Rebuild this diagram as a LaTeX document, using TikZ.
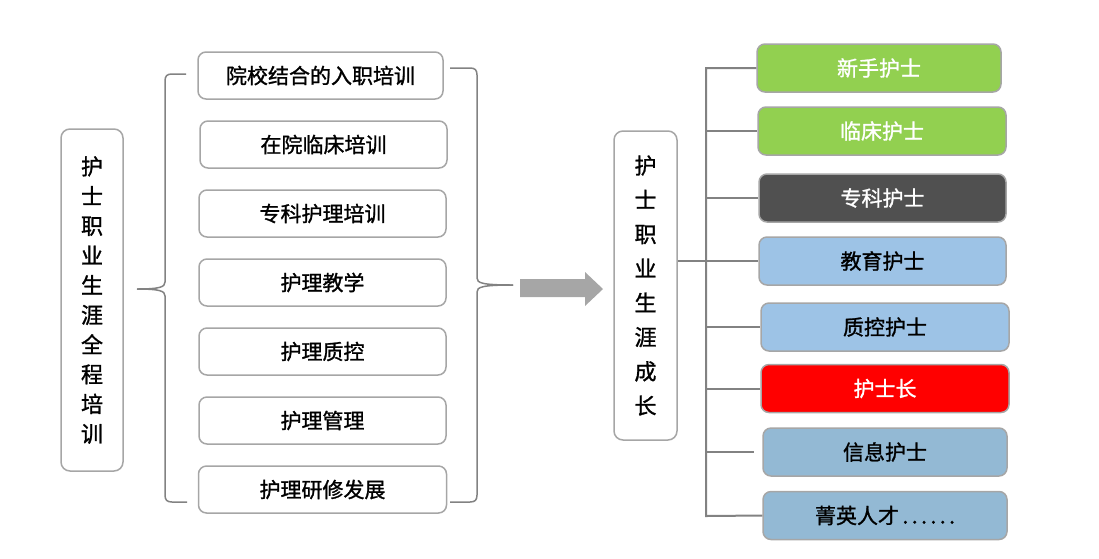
\documentclass[tikz,border=0pt]{standalone}
\usepackage{fontspec}
\setmainfont[FakeBold=1.2]{Noto Sans CJK SC}
\definecolor{rim}{HTML}{A6A6A6}
\definecolor{wire}{HTML}{828282}
\definecolor{leaf}{HTML}{92D050}
\definecolor{slate}{HTML}{505050}
\definecolor{sky}{HTML}{9DC3E6}
\definecolor{steel}{HTML}{93B9D4}
\begin{document}
\begin{tikzpicture}[x=1pt,y=-1pt,
  box/.style={draw=rim,line width=1.5pt,rounded corners=8pt,minimum height=47pt,inner sep=0pt,font=\fontsize{21}{24}\selectfont},
  stage/.style={box,fill=#1,minimum height=48pt},
  column/.style={draw=rim,line width=1.5pt,rounded corners=9pt,inner sep=0pt,align=center},
  curly/.style={draw=wire,line width=1.5pt},
  twig/.style={draw=wire,line width=2pt}]
\useasboundingbox (0,0) rectangle (1099,558);
% left column
\node[column,minimum width=62pt,minimum height=342pt,font=\fontsize{22}{29.7}\selectfont] (whole) at (92,300) {护\\士\\职\\业\\生\\涯\\全\\程\\培\\训};
\node[box,minimum width=245pt] (intake) at (320.5,75.5) {院校结合的入职培训};
\node[box,minimum width=247pt] (ward) at (323.5,144.5) {在院临床培训};
\node[box,minimum width=247pt] (spec) at (322.5,213.5) {专科护理培训};
\node[box,minimum width=247pt] (teach) at (322.5,282.5) {护理教学};
\node[box,minimum width=247pt] (quality) at (322.5,351.5) {护理质控};
\node[box,minimum width=247pt] (manage) at (322.5,420.5) {护理管理};
\node[box,minimum width=248pt] (study) at (322.5,489.5) {护理研修发展};
% braces
\draw[curly] (186,74) -- (172,74) .. controls (167,74) and (165,76) .. (165,81) -- (165,282) .. controls (165,287) and (160,289) .. (137,289);
\draw[curly] (137,289) .. controls (160,289) and (165,291) .. (165,296) -- (165,495) .. controls (165,500) and (167,502) .. (172,502) -- (187,502);
\draw[curly] (450,68) -- (470,68) .. controls (475,68) and (477,70) .. (477,75) -- (477,278) .. controls (477,283) and (482,285) .. (513,285);
\draw[curly] (513,285) .. controls (482,285) and (477,287) .. (477,292) -- (477,495) .. controls (477,500) and (475,502) .. (470,502) -- (450,502);
% arrow
\fill[rim] (520,279) -- (585,279) -- (585,272) -- (603,289) -- (585,306) -- (585,297) -- (520,297) -- cycle;
% right column
\node[column,minimum width=63pt,minimum height=309pt,font=\fontsize{22}{34.3}\selectfont] (growth) at (645.5,285.5) {护\\士\\职\\业\\生\\涯\\成\\长};
\node[stage=leaf,minimum width=244pt,text=white] (novice) at (879,68) {新手护士};
\node[stage=leaf,minimum width=248pt,text=white] (clinic) at (882,131) {临床护士};
\node[stage=slate,minimum width=247pt,text=white] (special) at (882.5,198) {专科护士};
\node[stage=sky,minimum width=247pt] (edu) at (882.5,261) {教育护士};
\node[stage=sky,minimum width=248pt] (qc) at (885,327) {质控护士};
\node[stage=red,minimum width=248pt,text=white] (head) at (885,388.5) {护士长};
\node[stage=steel,minimum width=244pt] (info) at (885,452) {信息护士};
\node[stage=steel,minimum width=244pt] (elite) at (885,515.5) {菁英人才\,.\,.\,.\,.\,.\,.};
% tree
\coordinate (sprout) at (706,68);
\coordinate (root) at (706,516);
\draw[twig] (novice.west) -- (sprout) -- (root) -- (elite.west);
\foreach \n in {clinic,special,qc,head}
  \draw[twig] (sprout |- \n.west) -- (\n.west);
\draw[twig,shorten >=8pt] (sprout |- info.west) -- (info.west);
\draw[twig] (growth.east |- edu.west) -- (edu.west);
\end{tikzpicture}
\end{document}
